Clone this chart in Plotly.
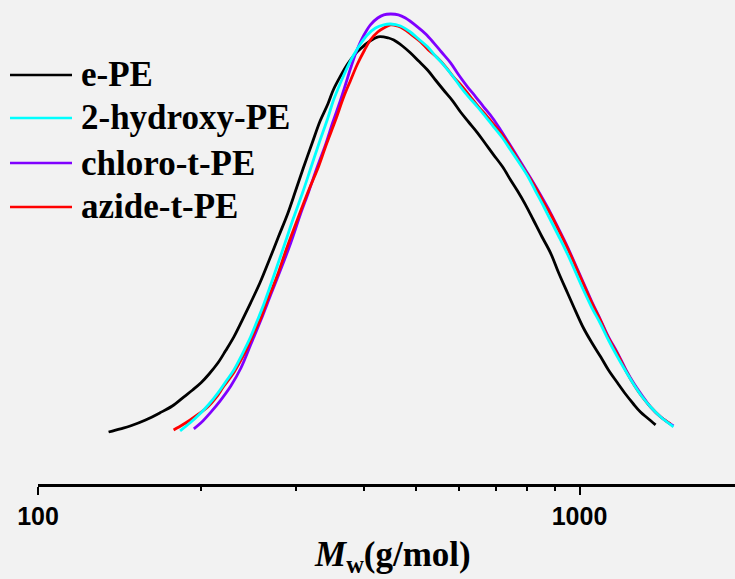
import plotly.graph_objects as go

# ---- data (molecular weight in g/mol, normalized detector response) ----
names = ["e-PE", "2-hydroxy-PE", "chloro-t-PE", "azide-t-PE"]
colors = ["#000000", "#00FFFF", "#8000FF", "#FF0000"]

e_pe_mw = [135, 142, 148, 158, 168, 177, 186, 193, 200, 207, 215, 222, 230, 238, 247,
           257, 267, 278, 289, 299, 309, 321, 332, 343, 351, 362, 373, 384, 394, 408,
           425, 444, 454, 471, 487, 504, 524, 542, 561, 583, 603, 624, 648, 671, 694,
           721, 746, 768, 795, 822, 851, 884, 915, 950, 983, 1017, 1052, 1094, 1131,
           1175, 1216, 1258, 1296, 1335, 1382]
e_pe_w = [0.000, 0.008, 0.015, 0.030, 0.048, 0.065, 0.088, 0.105, 0.123, 0.145, 0.173,
          0.203, 0.238, 0.278, 0.323, 0.373, 0.428, 0.488, 0.545, 0.603, 0.660, 0.723,
          0.778, 0.820, 0.855, 0.890, 0.920, 0.943, 0.958, 0.975, 0.988, 0.985, 0.980,
          0.965, 0.948, 0.928, 0.905, 0.880, 0.855, 0.828, 0.800, 0.775, 0.748, 0.720,
          0.693, 0.663, 0.630, 0.603, 0.568, 0.530, 0.490, 0.448, 0.398, 0.348, 0.303,
          0.260, 0.225, 0.188, 0.155, 0.123, 0.095, 0.070, 0.050, 0.035, 0.018]

hydroxy_mw = [183, 191, 200, 207, 215, 222, 230, 238, 247, 254, 261, 269, 277, 286, 296,
              308, 319, 330, 343, 351, 362, 373, 383, 394, 406, 420, 435, 448, 467, 487,
              504, 524, 542, 561, 583, 603, 624, 648, 671, 694, 721, 746, 772, 802, 829,
              858, 884, 915, 950, 983, 1017, 1052, 1094, 1131, 1175, 1216, 1258, 1302,
              1352, 1411, 1491]
hydroxy_w = [0.003, 0.023, 0.048, 0.070, 0.098, 0.125, 0.155, 0.193, 0.238, 0.278, 0.318,
             0.368, 0.418, 0.473, 0.533, 0.598, 0.660, 0.720, 0.785, 0.828, 0.873, 0.913,
             0.943, 0.970, 0.993, 1.010, 1.018, 1.020, 1.015, 1.000, 0.983, 0.963, 0.940,
             0.918, 0.890, 0.863, 0.838, 0.813, 0.788, 0.763, 0.735, 0.705, 0.675, 0.640,
             0.603, 0.565, 0.530, 0.490, 0.445, 0.400, 0.355, 0.313, 0.270, 0.230, 0.188,
             0.153, 0.120, 0.090, 0.063, 0.038, 0.013]

chloro_mw = [194, 200, 208, 217, 227, 237, 247, 258, 269, 281, 293, 305, 316, 328, 340,
             350, 361, 370, 379, 389, 399, 411, 424, 435, 448, 463, 477, 502, 520, 538,
             556, 578, 598, 621, 643, 665, 691, 715, 740, 768, 795, 822, 851, 884, 915,
             950, 983, 1017, 1052, 1094, 1131, 1175, 1216, 1258, 1302, 1352, 1411, 1491]
chloro_w = [0.008, 0.023, 0.048, 0.078, 0.115, 0.160, 0.218, 0.280, 0.343, 0.408, 0.473,
            0.543, 0.600, 0.663, 0.720, 0.773, 0.825, 0.870, 0.915, 0.958, 0.990, 1.018,
            1.035, 1.043, 1.045, 1.043, 1.035, 1.013, 0.995, 0.973, 0.950, 0.923, 0.893,
            0.863, 0.838, 0.813, 0.785, 0.755, 0.723, 0.688, 0.655, 0.623, 0.588, 0.548,
            0.508, 0.463, 0.418, 0.373, 0.328, 0.280, 0.238, 0.198, 0.158, 0.123, 0.093,
            0.063, 0.038, 0.015]

azide_mw = [178, 185, 191, 198, 206, 213, 220, 229, 237, 244, 250, 258, 265, 271, 277,
            286, 295, 305, 317, 330, 341, 354, 367, 378, 389, 401, 411, 424, 435, 448,
            461, 473, 490, 509, 526, 547, 566, 585, 608, 629, 651, 676, 700, 724, 749,
            778, 805, 836, 858, 884, 915, 950, 983, 1017, 1052, 1094, 1131, 1175, 1216,
            1258, 1302, 1352, 1411, 1472]
azide_w = [0.005, 0.018, 0.030, 0.045, 0.063, 0.085, 0.113, 0.145, 0.180, 0.213, 0.245,
           0.285, 0.328, 0.360, 0.393, 0.448, 0.498, 0.550, 0.608, 0.665, 0.720, 0.778,
           0.838, 0.880, 0.920, 0.955, 0.980, 1.000, 1.010, 1.018, 1.015, 1.008, 0.993,
           0.975, 0.955, 0.935, 0.913, 0.888, 0.863, 0.838, 0.813, 0.788, 0.763, 0.738,
           0.708, 0.671, 0.640, 0.603, 0.575, 0.545, 0.505, 0.460, 0.415, 0.370, 0.325,
           0.278, 0.235, 0.195, 0.155, 0.120, 0.090, 0.063, 0.038, 0.020]

series = {
    "e-PE": (e_pe_mw, e_pe_w),
    "2-hydroxy-PE": (hydroxy_mw, hydroxy_w),
    "chloro-t-PE": (chloro_mw, chloro_w),
    "azide-t-PE": (azide_mw, azide_w),
}

major_ticks = [100, 1000]
major_labels = ["100", "1000"]
minor_ticks = [200, 300, 400, 500, 600, 700, 800, 900]

# ---- figure ----
W, H = 735, 579
ML, MR, MT, MB = 38, 0, 0, 95
PW, PH = W - ML - MR, H - MT - MB

fig = go.Figure()
draw_order = ["e-PE", "chloro-t-PE", "azide-t-PE", "2-hydroxy-PE"]
for nm in draw_order:
    x, y = series[nm]
    fig.add_trace(go.Scatter(
        x=x, y=y, mode="lines", name=nm,
        line=dict(color=colors[names.index(nm)], width=2.8, shape="spline", smoothing=1.0),
        showlegend=False, hoverinfo="skip"))

def px2paper(px, py):
    return (px - ML) / PW, (H - MB - py) / PH

serif = "Liberation Serif, Times New Roman, serif"

# manual legend
leg_rows = [75, 118, 163, 207]
for nm, c, ry in zip(names, colors, leg_rows):
    x0, yy = px2paper(10, ry)
    x1, _ = px2paper(72, ry)
    fig.add_shape(type="line", xref="paper", yref="paper", x0=x0, x1=x1, y0=yy, y1=yy,
                  line=dict(color=c, width=2.5))
    tx, _ = px2paper(79, ry)
    fig.add_annotation(xref="paper", yref="paper", x=tx, y=yy, xanchor="left",
                       yanchor="middle", text="<b>" + nm + "</b>", showarrow=False,
                       font=dict(family=serif, size=35, color="black"))

# axis title
tx, ty = px2paper(392, 556)
fig.add_annotation(xref="paper", yref="paper", x=tx, y=ty, xanchor="center",
                   yanchor="middle", showarrow=False,
                   text="<b><i>M</i><sub>w</sub>(g/mol)</b>",
                   font=dict(family=serif, size=35, color="black"))

fig.update_layout(
    width=W, height=H,
    margin=dict(l=ML, r=MR, t=MT, b=MB, pad=0),
    paper_bgcolor="#f2f2f2", plot_bgcolor="#f2f2f2",
    showlegend=False,
    xaxis=dict(type="log", range=[2, 2 + PW / 541.5], showgrid=False, zeroline=False,
               showline=True, linecolor="black", linewidth=2.5,
               ticks="outside", ticklen=8, tickwidth=2, tickcolor="black",
               tickmode="array", tickvals=major_ticks,
               ticktext=["<b>" + t + "</b>" for t in major_labels],
               tickfont=dict(family="Liberation Sans, Arial", size=25, color="black",
                             weight="bold"),
               minor=dict(tickmode="array", tickvals=minor_ticks, ticks="outside",
                          ticklen=4, tickwidth=2, tickcolor="black", showgrid=False)),
    yaxis=dict(range=[-0.13, 1.08], visible=False, showgrid=False, zeroline=False),
)

fig.write_html("out.html")
